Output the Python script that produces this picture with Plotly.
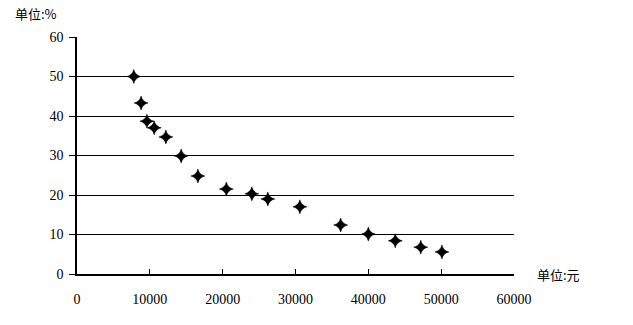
import plotly.graph_objects as go

income = [7800, 8800, 9600, 10600, 12200, 14300, 16600, 20500, 24000, 26200,
          30600, 36200, 40000, 43700, 47200, 50100]
share = [50, 43.3, 38.7, 37, 34.7, 29.9, 24.8, 21.5, 20.3, 19, 17, 12.4,
         10.1, 8.4, 6.8, 5.6]

x_ticks = [0, 10000, 20000, 30000, 40000, 50000, 60000]
y_ticks = [0, 10, 20, 30, 40, 50, 60]

serif = "Liberation Serif"
cjk = "Noto Sans CJK SC"

fig = go.Figure()
fig.add_trace(go.Scatter(
    x=income, y=share, mode="markers",
    marker=dict(symbol="star-diamond", size=10, color="black",
                line=dict(width=0.5, color="black")),
    showlegend=False,
))

fig.update_layout(
    width=633, height=325,
    margin=dict(l=77, r=119, t=37, b=51),
    paper_bgcolor="white", plot_bgcolor="white",
    xaxis=dict(
        range=[0, 60000], tickvals=x_ticks, ticktext=[str(v) for v in x_ticks],
        showgrid=False, zeroline=False,
        showline=True, linecolor="black", linewidth=1.5,
        ticks="inside", ticklen=5, tickcolor="black", tickwidth=1,
        ticklabelstandoff=11,
        tickfont=dict(family=serif, size=14, color="black"),
    ),
    yaxis=dict(
        range=[0, 60], tickvals=y_ticks,
        showgrid=True, gridcolor="black", gridwidth=1.2,
        zeroline=False,
        showline=True, linecolor="black", linewidth=1.5,
        ticks="outside", ticklen=6, tickcolor="black", tickwidth=1,
        ticklabelstandoff=3,
        tickfont=dict(family=serif, size=14, color="black"),
    ),
    annotations=[
        dict(text="单位:%", xref="paper", yref="paper", x=0, y=1.0,
             xanchor="left", yanchor="bottom", showarrow=False,
             xshift=-64, yshift=12,
             font=dict(family=cjk, size=13, color="black")),
        dict(text="单位:元", xref="paper", yref="paper", x=1, y=0,
             xanchor="left", yanchor="middle", showarrow=False, xshift=21,
             font=dict(family=cjk, size=13, color="black")),
    ],
)

fig.write_html("out.html")
